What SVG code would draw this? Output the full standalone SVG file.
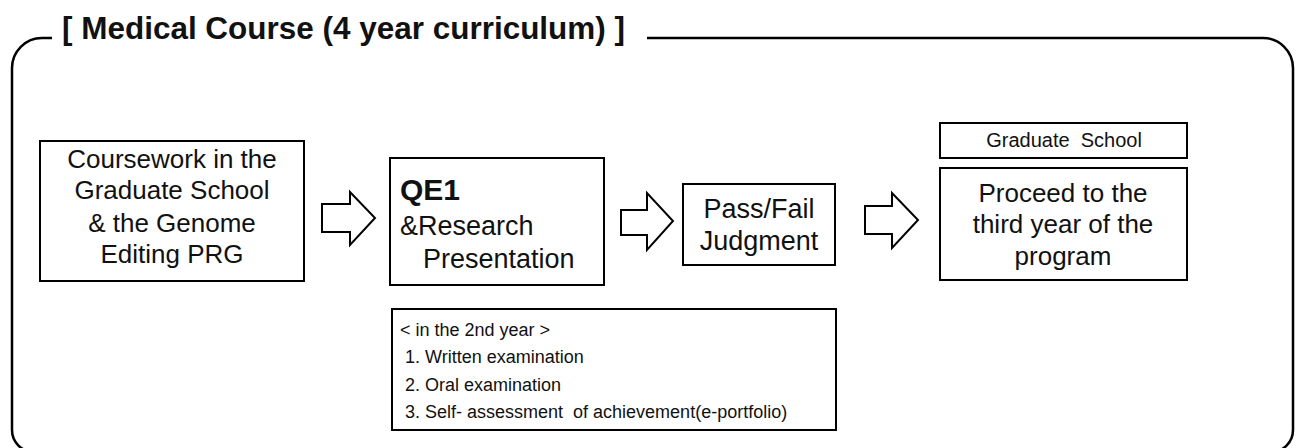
<svg xmlns="http://www.w3.org/2000/svg" width="1301" height="448" viewBox="0 0 1301 448">
<style>
  .box { fill: #fff; stroke: #000; stroke-width: 2; }
  .arrow { fill: #fff; stroke: #000; stroke-width: 2; stroke-linejoin: miter; }
  .t { font-family: "Liberation Sans", Arial, sans-serif; fill: #111; }
  .c { text-anchor: middle; }
</style>
<rect width="1301" height="448" fill="#fff"/>
<g id="frame">
  <path d="M52,38 H42 A30,30 0 0 0 12,68 V430 A22,22 0 0 0 34,452 H1271 A22,22 0 0 0 1293,430 V68 A30,30 0 0 0 1263,38 H647" fill="none" stroke="#000" stroke-width="2.5"/>
  <text class="t" x="62" y="39" font-size="31" font-weight="bold" textLength="563" lengthAdjust="spacingAndGlyphs">[ Medical Course (4 year curriculum) ]</text>
</g>
<g id="connectors">
  <path class="arrow" d="M322,204 H350 V192 L375,218 L350,245 V232 H322 Z"/>
  <path class="arrow" d="M621,210 H647 V193 L673,221 L647,250 V235 H621 Z"/>
  <path class="arrow" d="M865,206 H892 V193 L918,220 L892,248 V234 H865 Z"/>
</g>
<g id="coursework">
  <rect class="box" x="40" y="141" width="264" height="140"/>
  <text class="t c" x="172" y="168" font-size="26">Coursework in the</text>
  <text class="t c" x="172" y="199" font-size="26">Graduate School</text>
  <text class="t c" x="172" y="232" font-size="26">&amp; the Genome</text>
  <text class="t c" x="172" y="263" font-size="26">Editing PRG</text>
</g>
<g id="qe1">
  <rect class="box" x="390" y="158" width="214" height="127"/>
  <text class="t" x="400" y="200" font-size="30" font-weight="bold">QE1</text>
  <text class="t" x="400" y="235" font-size="27">&amp;Research</text>
  <text class="t" x="423" y="268" font-size="27">Presentation</text>
</g>
<g id="passfail">
  <rect class="box" x="683" y="184" width="152" height="81"/>
  <text class="t c" x="759" y="218" font-size="27">Pass/Fail</text>
  <text class="t c" x="759" y="250" font-size="27">Judgment</text>
</g>
<g id="gradschool">
  <rect class="box" x="940" y="123" width="247" height="35"/>
  <text class="t c" x="1064" y="147" font-size="20" xml:space="preserve">Graduate  School</text>
</g>
<g id="proceed">
  <rect class="box" x="940" y="168" width="247" height="112"/>
  <text class="t c" x="1063" y="202" font-size="26">Proceed to the</text>
  <text class="t c" x="1063" y="233" font-size="26">third year of the</text>
  <text class="t c" x="1063" y="265" font-size="26">program</text>
</g>
<g id="qe1details">
  <rect class="box" x="392" y="309" width="444" height="121"/>
  <text class="t" x="400" y="336" font-size="18">&lt; in the 2nd year &gt;</text>
  <text class="t" x="405" y="363" font-size="18">1. Written examination</text>
  <text class="t" x="405" y="391" font-size="18">2. Oral examination</text>
  <text class="t" x="405" y="418" font-size="18" xml:space="preserve">3. Self- assessment  of achievement(e-portfolio)</text>
</g>
</svg>
